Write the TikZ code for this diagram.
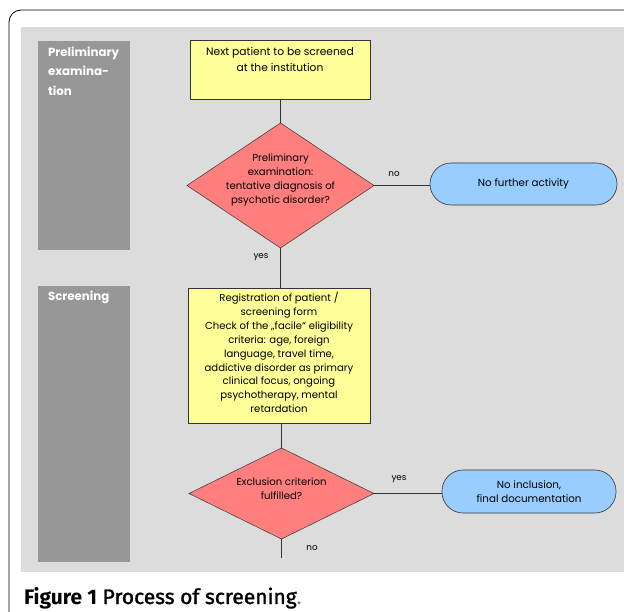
\documentclass[tikz,border=0pt]{standalone}
\usepackage{fontspec}
\setmainfont{Poppins}
\newfontfamily\capfont{Fira Sans}
\newfontfamily\capmed[FakeBold=1.5]{Fira Sans}
\definecolor{bggray}{HTML}{DCDCDC}
\definecolor{sidegray}{HTML}{979797}
\definecolor{boxyellow}{HTML}{FFFF99}
\definecolor{diared}{HTML}{FF7F7F}
\definecolor{termblue}{HTML}{99CCFF}
\definecolor{edgegray}{HTML}{333333}
\begin{document}
\begin{tikzpicture}[x=1pt,y=-1pt,
  every node/.style={inner sep=0pt,outer sep=0pt},
  sidelabel/.style={text=white,font=\fontsize{11.8}{19.5}\selectfont\bfseries,anchor=north west,align=left},
  procbox/.style={rectangle,draw=edgegray,line width=0.9pt,fill=boxyellow},
  diashape/.style={draw=edgegray,line width=0.5pt,fill=diared},
  difftext/.style={align=center,font=\fontsize{10.1}{14}\selectfont},
  terminal/.style={rectangle,rounded corners=21pt,draw=edgegray,line width=0.6pt,fill=termblue,align=center,font=\fontsize{10.3}{14}\selectfont},
  conn/.style={draw=edgegray,line width=0.7pt},
  edgelabel/.style={font=\fontsize{8.8}{10}\selectfont}
]
\useasboundingbox (0,0) rectangle (624,612);
\fill[white] (0,0) rectangle (624,612);
% outer frame
\draw[black,line width=0.8pt,rounded corners=12pt] (9,640) -- (9,10) -- (660,10);
% background
\fill[bggray] (21,27) rectangle (624,572);
% sidebars
\fill[sidegray] (38,41) rectangle (130,250);
\fill[sidegray] (38,286) rectangle (130,562);
\node[sidelabel] (s1) at (48,47) {Preliminary\\examina-\\tion};
\node[sidelabel] (s2) at (48,291) {Screening};
% box 1
\node[procbox,minimum width=180pt,minimum height=59pt] (b1) at (280,69.5) {};
\node[font=\fontsize{10.7}{16}\selectfont,align=center,anchor=north] (b1t) at (280,47) {Next patient to be screened\\at the institution};
% diamond 1
\coordinate (d1n) at (280.5,123);
\coordinate (d1s) at (280.5,248);
\coordinate (d1w) at (187,185.5);
\coordinate (d1e) at (374,185.5);
\filldraw[diashape] (d1n) -- (d1e) -- (d1s) -- (d1w) -- cycle;
\node[difftext] (d1) at (280.5,180) {Preliminary\\examination:\\tentative diagnosis of\\psychotic disorder?};
% terminal 1
\node[terminal,minimum width=187pt,minimum height=42pt] (t1) at (523.5,184) {No further activity};
% box 2
\node[procbox,minimum width=182pt,minimum height=135pt] (b2) at (279,355.5) {};
\node[font=\fontsize{10.1}{13.9}\selectfont,align=center,anchor=north] (b2t) at (279,292) {Registration of patient /\\screening form\\Check of the \char"201E facile\char"201C{} eligibility\\criteria: age, foreign\\language, travel time,\\addictive disorder as primary\\clinical focus, ongoing\\psychotherapy, mental\\retardation};
% diamond 2
\coordinate (d2n) at (281.5,448);
\coordinate (d2s) at (281.5,539);
\coordinate (d2w) at (189,493.5);
\coordinate (d2e) at (374,493.5);
\filldraw[diashape] (d2n) -- (d2e) -- (d2s) -- (d2w) -- cycle;
\node[difftext] (d2) at (281.5,489) {Exclusion criterion\\fulfilled?};
% terminal 2
\node[terminal,minimum width=174pt,minimum height=43pt] (t2) at (529,491.5) {No inclusion,\\final documentation};
\coordinate (end) at (281.5,558);
% connectors
\draw[conn] (b1.south -| d1n) -- (d1n);
\draw[conn] (d1e) -- (t1.west |- d1e);
\draw[conn] (d1s) -- (b2.north -| d1s);
\draw[conn] (b2.south -| d2n) -- (d2n);
\draw[conn] (d2e) -- (t2.west |- d2e);
\draw[conn] (d2s) -- (end);
% edge labels
\node[edgelabel] (l1) at (394,174) {no};
\node[edgelabel] (l2) at (261,257) {yes};
\node[edgelabel] (l3) at (399,479) {yes};
\node[edgelabel] (l4) at (312,548) {no};
% caption
\node[anchor=base west,font=\fontsize{21}{24}\selectfont] (cap) at (24,604) {{\capfont\bfseries Figure 1} {\capmed Process of screening}{\capfont\textcolor{gray}{.}}};
\end{tikzpicture}
\end{document}
